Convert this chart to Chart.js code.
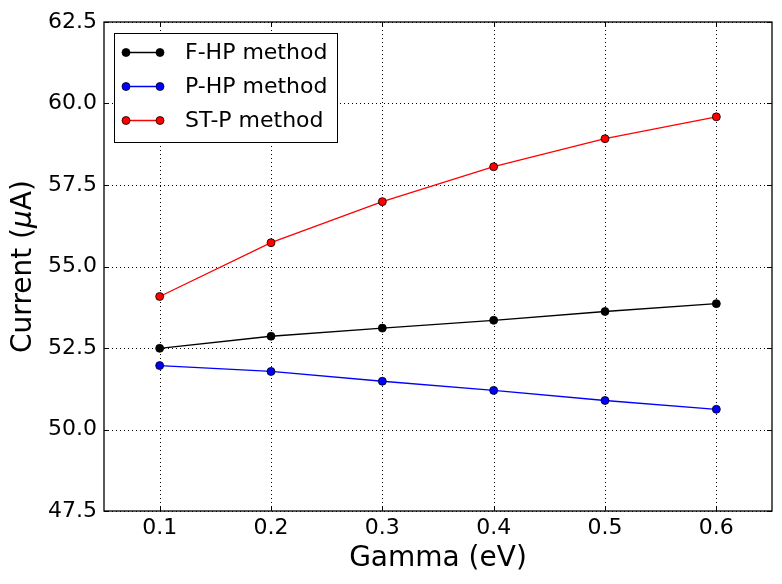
<!DOCTYPE html>
<html>
<head>
<meta charset="utf-8">
<script src="https://cdn.jsdelivr.net/npm/chart.js@4.4.0/dist/chart.umd.min.js"></script>
<style>
  html, body { margin: 0; padding: 0; background: #fff; }
  #wrap { width: 782px; height: 584px; }
</style>
</head>
<body>
<div id="wrap"><canvas id="c" width="782" height="584"></canvas></div>
<script>
// ---- data ----
const gamma = [0.1, 0.2, 0.3, 0.4, 0.5, 0.6];
const fhpValues = [52.49, 52.86, 53.11, 53.35, 53.62, 53.86];
const phpValues = [51.96, 51.78, 51.48, 51.20, 50.89, 50.62];
const stpValues = [54.08, 55.73, 56.99, 58.06, 58.92, 59.59];
const seriesLabels = ['F-HP method', 'P-HP method', 'ST-P method'];
const seriesColors = ['#000000', '#0000ff', '#ff0000'];
const xTicks = [0.1, 0.2, 0.3, 0.4, 0.5, 0.6];
const yTicks = [47.5, 50.0, 52.5, 55.0, 57.5, 60.0, 62.5];
const xTitle = 'Gamma (eV)';
const yTitleParts = ['Current (', 'μ', 'A)'];

const FONT = "'DejaVu Sans', 'Liberation Sans', sans-serif";

function mkSet(label, vals, color) {
  return {
    label: label,
    data: gamma.map((g, i) => ({ x: g, y: vals[i] })),
    borderColor: color,
    backgroundColor: color,
    pointBorderColor: '#000000',
    pointBorderWidth: 0.8,
    pointRadius: 4,
    pointHoverRadius: 4,
    borderWidth: 1.3,
    tension: 0,
    fill: false
  };
}

const datasets = [
  mkSet(seriesLabels[0], fhpValues, seriesColors[0]),
  mkSet(seriesLabels[1], phpValues, seriesColors[1]),
  mkSet(seriesLabels[2], stpValues, seriesColors[2])
];

const decorPlugin = {
  id: 'decor',
  beforeDatasetsDraw(chart) {
    // dotted grid lines
    const ctx = chart.ctx;
    const a = chart.chartArea;
    const xs = chart.scales.x, ys = chart.scales.y;
    ctx.save();
    ctx.strokeStyle = '#000';
    ctx.lineWidth = 1;
    ctx.setLineDash([1, 3]);
    xTicks.forEach(v => {
      const px = Math.round(xs.getPixelForValue(v)) + 0.5;
      ctx.beginPath(); ctx.moveTo(px, a.top); ctx.lineTo(px, a.bottom); ctx.stroke();
    });
    yTicks.forEach(v => {
      const py = Math.round(ys.getPixelForValue(v)) + 0.5;
      ctx.beginPath(); ctx.moveTo(a.left, py); ctx.lineTo(a.right, py); ctx.stroke();
    });
    ctx.restore();
  },
  afterDatasetsDraw(chart) {
    const ctx = chart.ctx;
    const a = chart.chartArea;
    const xs = chart.scales.x, ys = chart.scales.y;
    ctx.save();
    // inward tick marks on all four sides
    ctx.strokeStyle = '#000';
    ctx.lineWidth = 1;
    const L = 5;
    xTicks.forEach(v => {
      const px = Math.round(xs.getPixelForValue(v)) + 0.5;
      ctx.beginPath();
      ctx.moveTo(px, a.bottom); ctx.lineTo(px, a.bottom - L);
      ctx.moveTo(px, a.top); ctx.lineTo(px, a.top + L);
      ctx.stroke();
    });
    yTicks.forEach(v => {
      const py = Math.round(ys.getPixelForValue(v)) + 0.5;
      ctx.beginPath();
      ctx.moveTo(a.left, py); ctx.lineTo(a.left + L, py);
      ctx.moveTo(a.right, py); ctx.lineTo(a.right - L, py);
      ctx.stroke();
    });
    // frame
    ctx.lineWidth = 1.3;
    ctx.strokeRect(a.left, a.top, a.right - a.left, a.bottom - a.top);

    // legend box (upper left inside plot)
    const bx = a.left + 10, by = a.top + 11, bw = 223, bh = 109;
    ctx.fillStyle = '#fff';
    ctx.fillRect(bx, by, bw, bh);
    ctx.lineWidth = 1;
    ctx.strokeStyle = '#000';
    ctx.strokeRect(bx + 0.5, by + 0.5, bw, bh);
    ctx.font = '22px ' + FONT;
    ctx.textBaseline = 'middle';
    ctx.textAlign = 'left';
    chart.data.datasets.forEach((ds, i) => {
      const cy = by + 19.5 + i * 34;
      const x1 = bx + 12, x2 = bx + 46;
      ctx.strokeStyle = ds.borderColor;
      ctx.lineWidth = 1.3;
      ctx.beginPath(); ctx.moveTo(x1, cy); ctx.lineTo(x2, cy); ctx.stroke();
      [x1, x2].forEach(px => {
        ctx.beginPath();
        ctx.arc(px, cy, 4, 0, Math.PI * 2);
        ctx.fillStyle = ds.backgroundColor;
        ctx.fill();
        ctx.lineWidth = 0.8;
        ctx.strokeStyle = '#000';
        ctx.stroke();
      });
      ctx.fillStyle = '#000';
      ctx.fillText(ds.label, bx + 71, cy + 1);
    });

    // y-axis title with italic mu
    const fN = '28px ' + FONT, fI = 'italic 28px ' + FONT;
    ctx.font = fN; const w0 = ctx.measureText(yTitleParts[0]).width;
    ctx.font = fI; const w1 = ctx.measureText(yTitleParts[1]).width;
    ctx.font = fN; const w2 = ctx.measureText(yTitleParts[2]).width;
    const total = w0 + w1 + w2;
    const cyT = (a.top + a.bottom) / 2;
    ctx.translate(24, cyT);
    ctx.rotate(-Math.PI / 2);
    ctx.fillStyle = '#000';
    ctx.textBaseline = 'middle';
    ctx.textAlign = 'left';
    let x = -total / 2;
    ctx.font = fN; ctx.fillText(yTitleParts[0], x, 0); x += w0;
    ctx.font = fI; ctx.fillText(yTitleParts[1], x, 0); x += w1;
    ctx.font = fN; ctx.fillText(yTitleParts[2], x, 0);
    ctx.restore();
  }
};

new Chart(document.getElementById('c'), {
  type: 'line',
  data: { datasets: datasets },
  options: {
    responsive: false,
    animation: false,
    devicePixelRatio: 1,
    layout: { padding: { top: 22, right: 10, left: 0, bottom: 0 } },
    plugins: { legend: { display: false }, tooltip: { enabled: false } },
    scales: {
      x: {
        type: 'linear',
        min: 0.05, max: 0.65,
        afterBuildTicks: s => { s.ticks = xTicks.map(v => ({ value: v })); },
        afterFit: s => { s.height = 73; },
        border: { display: false },
        grid: { display: false, drawTicks: false },
        ticks: { color: '#000', font: { family: FONT, size: 22 }, padding: 4, maxRotation: 0,
                 callback: v => v.toFixed(1) },
        title: { display: true, text: xTitle, color: '#000', font: { family: FONT, size: 28 }, padding: { top: 0, bottom: 8 } }
      },
      y: {
        type: 'linear',
        min: 47.5, max: 62.5,
        afterBuildTicks: s => { s.ticks = yTicks.map(v => ({ value: v })); },
        afterFit: s => { s.width = 104; },
        border: { display: false },
        grid: { display: false, drawTicks: false },
        ticks: { color: '#000', font: { family: FONT, size: 22 }, padding: 7,
                 callback: v => v.toFixed(1) },
        title: { display: false }
      }
    }
  },
  plugins: [decorPlugin]
});
</script>
</body>
</html>
